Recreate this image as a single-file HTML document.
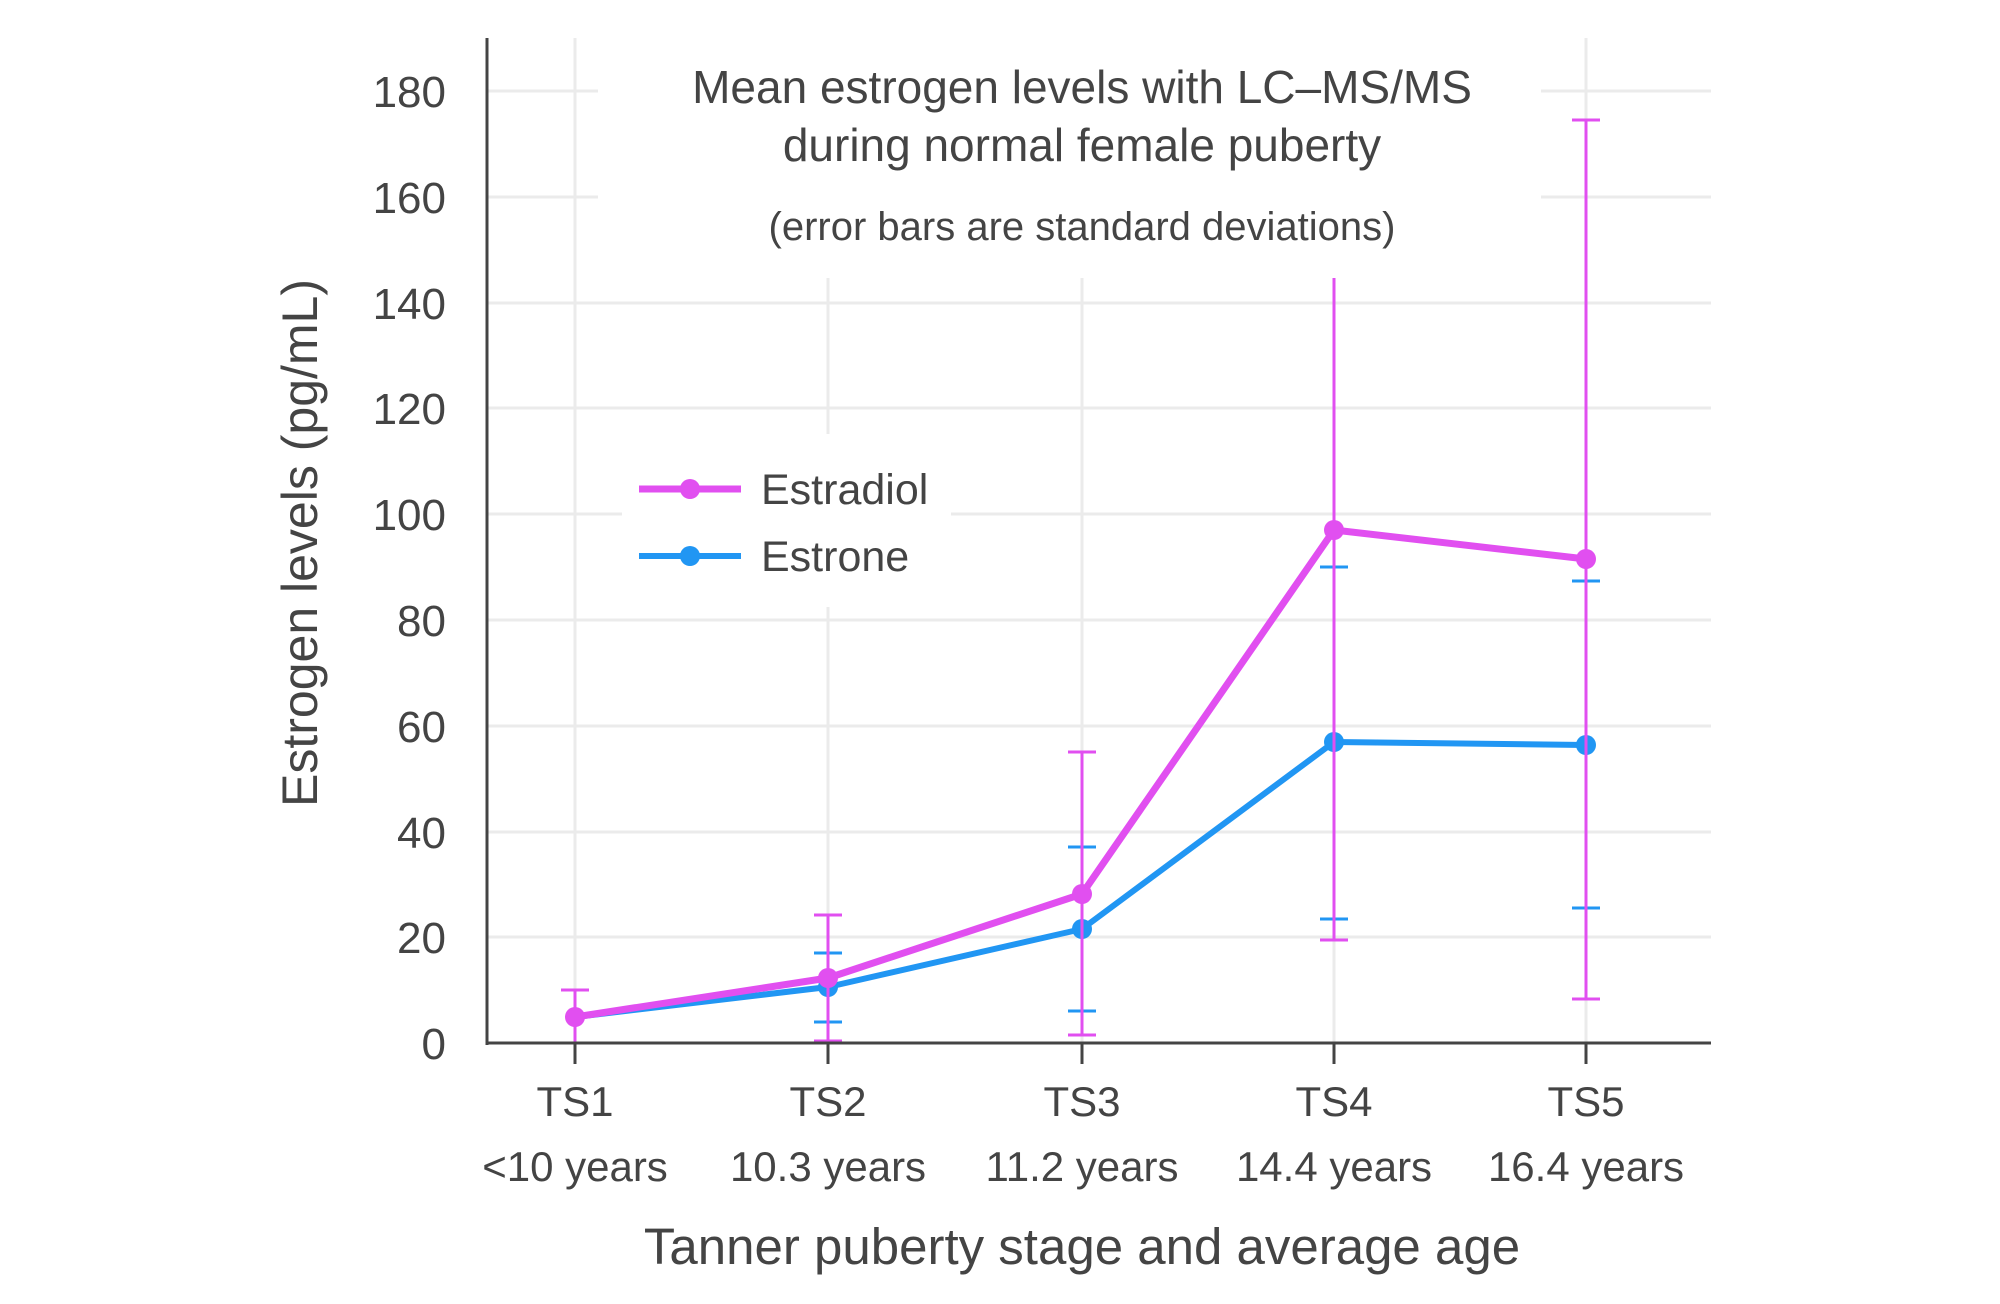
<!DOCTYPE html>
<html><head><meta charset="utf-8"><style>html,body{margin:0;padding:0;background:#fff}svg{display:block}</style></head>
<body>
<svg width="2000" height="1304" viewBox="0 0 2000 1304" xmlns="http://www.w3.org/2000/svg" font-family="Liberation Sans, sans-serif" fill="#444">
<g stroke="#ebebeb" stroke-width="3">
<line x1="487" x2="1711" y1="91" y2="91"/><line x1="487" x2="1711" y1="197" y2="197"/><line x1="487" x2="1711" y1="303" y2="303"/><line x1="487" x2="1711" y1="408" y2="408"/><line x1="487" x2="1711" y1="514" y2="514"/><line x1="487" x2="1711" y1="620" y2="620"/><line x1="487" x2="1711" y1="726" y2="726"/><line x1="487" x2="1711" y1="832" y2="832"/><line x1="487" x2="1711" y1="937" y2="937"/>
<line x1="575" x2="575" y1="38" y2="1043"/><line x1="828" x2="828" y1="38" y2="1043"/><line x1="1082" x2="1082" y1="38" y2="1043"/><line x1="1334" x2="1334" y1="38" y2="1043"/><line x1="1586" x2="1586" y1="38" y2="1043"/>
</g>
<rect x="622" y="434" width="329" height="173" fill="#fff"/>
<g stroke="#2196f3" stroke-width="3">
<line x1="828" x2="828" y1="953" y2="1022"/><line x1="814" x2="842" y1="953" y2="953"/><line x1="814" x2="842" y1="1022" y2="1022"/>
<line x1="1082" x2="1082" y1="847" y2="1011"/><line x1="1068" x2="1096" y1="847" y2="847"/><line x1="1068" x2="1096" y1="1011" y2="1011"/>
<line x1="1320" x2="1348" y1="567" y2="567"/><line x1="1320" x2="1348" y1="919" y2="919"/>
<line x1="1572" x2="1600" y1="581" y2="581"/><line x1="1572" x2="1600" y1="908" y2="908"/>
</g>
<polyline points="575,1017 828,987 1082,929 1334,742 1586,745" fill="none" stroke="#2196f3" stroke-width="6" stroke-linejoin="round"/>
<g fill="#2196f3"><circle cx="828" cy="987" r="10"/><circle cx="1082" cy="929" r="10"/><circle cx="1334" cy="742" r="10"/><circle cx="1586" cy="745" r="10"/></g>
<polyline points="575,1017 828,978 1082,894 1334,530 1586,559" fill="none" stroke="#e14ff0" stroke-width="7" stroke-linejoin="round"/>
<g fill="#e14ff0"><circle cx="575" cy="1017" r="10"/><circle cx="828" cy="978" r="10"/><circle cx="1082" cy="894" r="10"/><circle cx="1334" cy="530" r="10"/><circle cx="1586" cy="559" r="10"/></g>
<g stroke="#e14ff0" stroke-width="3">
<line x1="575" x2="575" y1="990" y2="1043"/><line x1="561" x2="589" y1="990" y2="990"/><line x1="561" x2="589" y1="1043" y2="1043"/>
<line x1="828" x2="828" y1="915" y2="1041"/><line x1="814" x2="842" y1="915" y2="915"/><line x1="814" x2="842" y1="1041" y2="1041"/>
<line x1="1082" x2="1082" y1="752" y2="1035"/><line x1="1068" x2="1096" y1="752" y2="752"/><line x1="1068" x2="1096" y1="1035" y2="1035"/>
<line x1="1334" x2="1334" y1="120" y2="940"/><line x1="1320" x2="1348" y1="940" y2="940"/>
<line x1="1586" x2="1586" y1="120" y2="999"/><line x1="1572" x2="1600" y1="120" y2="120"/><line x1="1572" x2="1600" y1="999" y2="999"/>
</g>
<rect x="598" y="38" width="943" height="240" fill="#fff"/>
<line x1="487" x2="487" y1="38" y2="1045" stroke="#444" stroke-width="3"/>
<line x1="487" x2="1711" y1="1043" y2="1043" stroke="#444" stroke-width="3"/>
<g stroke="#444" stroke-width="3"><line x1="575" x2="575" y1="1043" y2="1064"/><line x1="828" x2="828" y1="1043" y2="1064"/><line x1="1082" x2="1082" y1="1043" y2="1064"/><line x1="1334" x2="1334" y1="1043" y2="1064"/><line x1="1586" x2="1586" y1="1043" y2="1064"/></g>
<g font-size="44" text-anchor="end">
<text x="446" y="1059">0</text><text x="446" y="953">20</text><text x="446" y="848">40</text><text x="446" y="742">60</text><text x="446" y="636">80</text><text x="446" y="530">100</text><text x="446" y="424">120</text><text x="446" y="319">140</text><text x="446" y="213">160</text><text x="446" y="107">180</text>
</g>
<g font-size="42" text-anchor="middle">
<text x="575" y="1116">TS1</text><text x="828" y="1116">TS2</text><text x="1082" y="1116">TS3</text><text x="1334" y="1116">TS4</text><text x="1586" y="1116">TS5</text>
<text x="575" y="1181">&lt;10 years</text><text x="828" y="1181">10.3 years</text><text x="1082" y="1181">11.2 years</text><text x="1334" y="1181">14.4 years</text><text x="1586" y="1181">16.4 years</text>
<text x="1082" y="1264" font-size="51">Tanner puberty stage and average age</text>
<text x="1082" y="103" font-size="46">Mean estrogen levels with LC–MS/MS</text>
<text x="1082" y="161" font-size="46">during normal female puberty</text>
<text x="1082" y="240" font-size="40">(error bars are standard deviations)</text>
<text transform="translate(317,543) rotate(-90)" font-size="50">Estrogen levels (pg/mL)</text>
</g>
<line x1="639" x2="741" y1="489" y2="489" stroke="#e14ff0" stroke-width="7"/><circle cx="690" cy="489" r="10" fill="#e14ff0"/>
<line x1="639" x2="741" y1="556" y2="556" stroke="#2196f3" stroke-width="6"/><circle cx="690" cy="556" r="10" fill="#2196f3"/>
<text x="761" y="504" font-size="43">Estradiol</text>
<text x="761" y="571" font-size="43">Estrone</text>
</svg>
</body></html>
